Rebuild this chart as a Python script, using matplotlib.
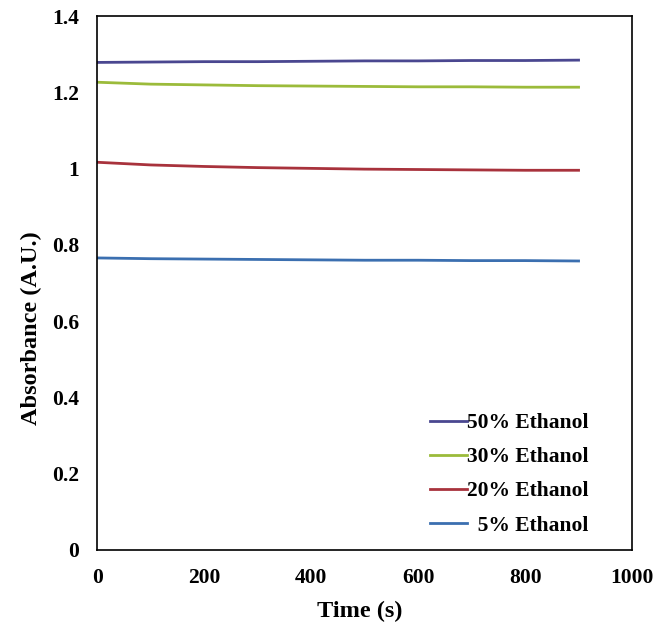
import matplotlib
matplotlib.use("Agg")
import matplotlib.pyplot as plt

plt.rcParams['font.family'] = ['Liberation Serif', 'DejaVu Serif']
plt.rcParams['font.weight'] = 'bold'

# time points (s)
time_s = [0, 100, 200, 300, 400, 500, 600, 700, 800, 900]

# absorbance
abs_50 = [1.279, 1.280, 1.281, 1.281, 1.282, 1.283, 1.283, 1.284, 1.284, 1.285]
abs_30 = [1.227, 1.222, 1.220, 1.218, 1.217, 1.216, 1.215, 1.215, 1.214, 1.214]
abs_20 = [1.017, 1.010, 1.006, 1.003, 1.001, 0.999, 0.998, 0.997, 0.996, 0.996]
abs_5 = [0.766, 0.764, 0.763, 0.762, 0.761, 0.760, 0.760, 0.759, 0.759, 0.758]

labels = ["50% Ethanol", "30% Ethanol", "20% Ethanol", "  5% Ethanol"]
colors = ["#4a4790", "#9bbb3a", "#a8323c", "#3b6fb0"]

xticks = [0, 200, 400, 600, 800, 1000]
yticks = [0, 0.2, 0.4, 0.6, 0.8, 1.0, 1.2, 1.4]
ytick_labels = ["0", "0.2", "0.4", "0.6", "0.8", "1", "1.2", "1.4"]

fig = plt.figure(figsize=(6.57, 6.27), dpi=100)
ax = fig.add_axes([0.148, 0.123, 0.814, 0.851])

for y, lab, c in zip([abs_50, abs_30, abs_20, abs_5], labels, colors):
    ax.plot(time_s, y, color=c, lw=2, label=lab)

ax.set_xlim(0, 1000)
ax.set_ylim(0, 1.4)
ax.set_xticks(xticks)
ax.set_yticks(yticks)
ax.set_yticklabels(ytick_labels)
ax.tick_params(length=0, labelsize=15.5, width=0)
ax.tick_params(axis='x', pad=13)
ax.tick_params(axis='y', pad=13)
for s in ax.spines.values():
    s.set_linewidth(1.2)

ax.set_xlabel("Time (s)", fontsize=17.5, fontweight='bold')
ax.set_ylabel("Absorbance (A.U.)", fontsize=17.5, fontweight='bold')
ax.xaxis.set_label_coords(0.49, -0.095)
ax.yaxis.set_label_coords(-0.104, 0.416)

ax.legend(loc='lower right', bbox_to_anchor=(0.955, -0.0094), frameon=False,
          fontsize=15.5, handlelength=1.72, handletextpad=0.0,
          labelspacing=0.65)

fig.savefig("out.png", dpi=100)
